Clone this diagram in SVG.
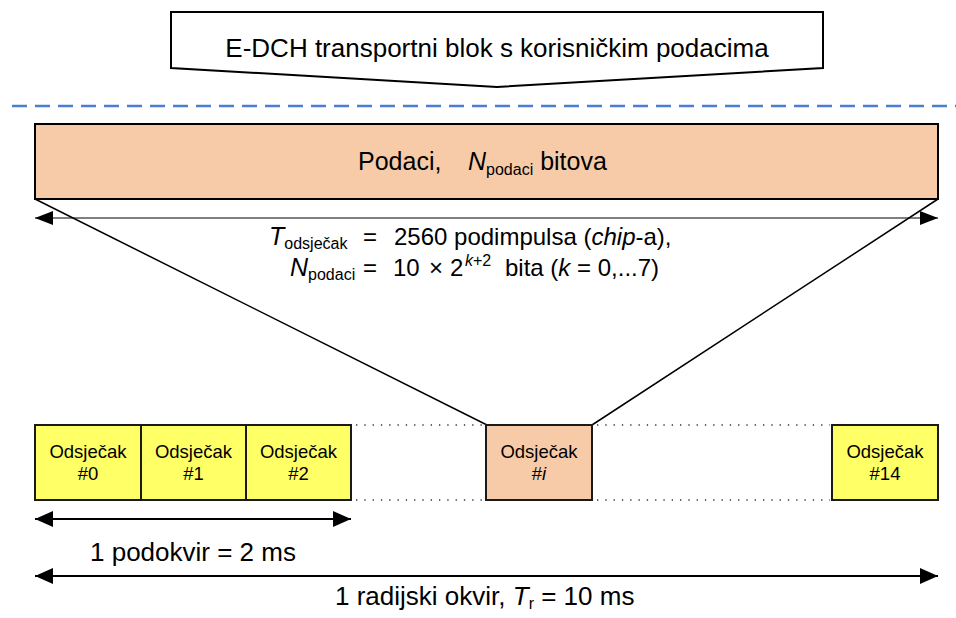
<svg xmlns="http://www.w3.org/2000/svg" width="956" height="618" viewBox="0 0 956 618">
<defs>
<marker id="ah" markerUnits="userSpaceOnUse" markerWidth="18" markerHeight="16" refX="18" refY="8" orient="auto-start-reverse">
<path d="M0,0 L18,8 L0,16 Z" fill="#000"/>
</marker>
<marker id="ahs" markerUnits="userSpaceOnUse" markerWidth="18" markerHeight="14" refX="18" refY="7" orient="auto-start-reverse">
<path d="M0,0 L18,7 L0,14 Z" fill="#000"/>
</marker>
</defs>
<style>
text{font-family:"Liberation Sans",Arial,sans-serif;fill:#000}
.big{font-size:26px}
.mid{font-size:24px}
.sm{font-size:18.5px}
.sub{font-size:16px}
.it{font-style:italic}
.slot{stroke:#1a1a1a;stroke-width:2}
.yel{fill:#ffff66}
.org{fill:#f8cba8}
.dot{stroke:#333;stroke-width:1.3;stroke-dasharray:1.3 7;fill:none}
.ln{stroke:#000;fill:none}
</style>
<rect width="956" height="618" fill="#fff"/>

<g id="callout">
<polygon points="171,12 823,12 823,68 497,87 171,68" fill="#fff" stroke="#000" stroke-width="2"/>
<text class="big" x="497" y="57" text-anchor="middle">E-DCH transportni blok s korisničkim podacima</text>
</g>

<line x1="12" y1="106" x2="956" y2="106" stroke="#4a7ed0" stroke-width="2.5" stroke-dasharray="15 8"/>

<g id="data-block">
<rect x="35" y="124" width="903" height="75" class="org" stroke="#000" stroke-width="2"/>
<text x="358" y="170" style="font-size:25px">Podaci,<tspan x="468" class="it">N</tspan><tspan class="sub" dy="5">podaci</tspan><tspan dy="-5"> bitova</tspan></text>
</g>

<g id="connectors">
<line class="ln" x1="35" y1="199" x2="487" y2="425" stroke-width="1.5"/>
<line class="ln" x1="938" y1="199" x2="592" y2="425" stroke-width="1.5"/>
<line class="ln" x1="35" y1="218" x2="938" y2="218" stroke-width="1.2" marker-start="url(#ahs)" marker-end="url(#ahs)"/>
<line class="ln" x1="35" y1="519" x2="351" y2="519" stroke-width="2" marker-start="url(#ah)" marker-end="url(#ah)"/>
<line class="ln" x1="35" y1="576" x2="938" y2="576" stroke-width="2" marker-start="url(#ah)" marker-end="url(#ah)"/>
<line class="dot" x1="356" y1="425" x2="484" y2="425"/>
<line class="dot" x1="356" y1="500" x2="484" y2="500"/>
<line class="dot" x1="597" y1="425" x2="830" y2="425"/>
<line class="dot" x1="597" y1="500" x2="830" y2="500"/>
</g>

<g id="timing-label">
<text class="mid" y="245"><tspan x="269" class="it" style="font-size:25px">T</tspan><tspan class="sub" dy="4">odsječak</tspan><tspan x="363" dy="-4">=</tspan><tspan x="394">2560 podimpulsa (</tspan><tspan class="it">chip</tspan>-a),</text>
<text class="mid" y="276"><tspan x="290" class="it" style="font-size:25px">N</tspan><tspan class="sub" dy="4">podaci</tspan><tspan x="363" dy="-4">=</tspan><tspan x="393">10</tspan><tspan x="429">×</tspan><tspan x="450">2</tspan><tspan x="465" dy="-10" class="sub it">k</tspan><tspan class="sub">+2</tspan><tspan dy="10" x="505">bita (</tspan><tspan class="it">k</tspan> = 0,...7)</text>
</g>

<g id="slot0">
<rect x="35" y="425" width="106" height="75" class="yel slot"/>
<text class="sm" x="88" y="458" text-anchor="middle">Odsječak</text>
<text class="sm" x="88" y="480" text-anchor="middle">#0</text>
</g>
<g id="slot1">
<rect x="141" y="425" width="105" height="75" class="yel slot"/>
<text class="sm" x="193.5" y="458" text-anchor="middle">Odsječak</text>
<text class="sm" x="193.5" y="480" text-anchor="middle">#1</text>
</g>
<g id="slot2">
<rect x="246" y="425" width="105" height="75" class="yel slot"/>
<text class="sm" x="298.5" y="458" text-anchor="middle">Odsječak</text>
<text class="sm" x="298.5" y="480" text-anchor="middle">#2</text>
</g>
<g id="slot-i">
<rect x="486" y="425" width="106" height="75" class="org slot"/>
<text class="sm" x="539" y="458" text-anchor="middle">Odsječak</text>
<text class="sm" x="539" y="480" text-anchor="middle">#<tspan class="it">i</tspan></text>
</g>
<g id="slot14">
<rect x="832" y="425" width="106" height="75" class="yel slot"/>
<text class="sm" x="885" y="458" text-anchor="middle">Odsječak</text>
<text class="sm" x="885" y="480" text-anchor="middle">#14</text>
</g>

<g id="subframe-label">
<text class="big" x="90" y="561">1 podokvir = 2 ms</text>
</g>
<g id="frame-label">
<text class="big" x="335" y="605">1 radijski okvir, <tspan class="it">T</tspan><tspan class="sub" dy="4">r</tspan><tspan dy="-4"> = 10 ms</tspan></text>
</g>
</svg>
